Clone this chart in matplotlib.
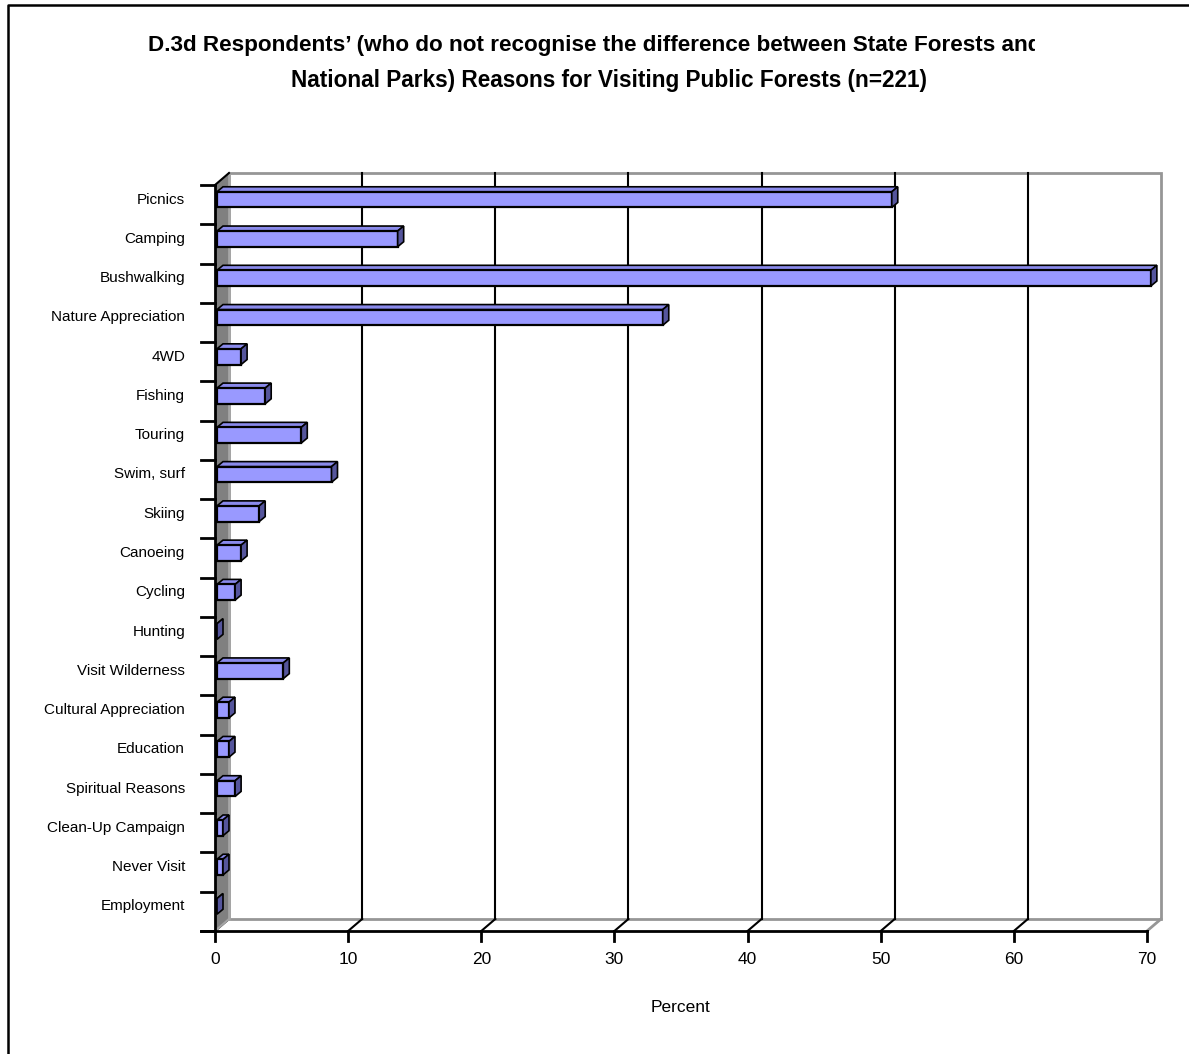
import matplotlib
matplotlib.use("Agg")
import matplotlib.pyplot as plt
from matplotlib.patches import Polygon
from matplotlib.lines import Line2D
from matplotlib.transforms import IdentityTransform, Bbox, ScaledTranslation

# ---- data -------------------------------------------------------------
categories = [
    "Picnics", "Camping", "Bushwalking", "Nature Appreciation", "4WD",
    "Fishing", "Touring", "Swim, surf", "Skiing", "Canoeing", "Cycling",
    "Hunting", "Visit Wilderness", "Cultural Appreciation", "Education",
    "Spiritual Reasons", "Clean-Up Campaign", "Never Visit", "Employment",
]
percent = [
    50.68, 13.57, 70.14, 33.48, 1.81,
    3.62, 6.33, 8.60, 3.17, 1.81, 1.36,
    0.0, 4.98, 0.90, 0.90,
    1.36, 0.45, 0.45, 0.0,
]
x_ticks = [0, 10, 20, 30, 40, 50, 60, 70]

title_line1 = "D.3d Respondents\u2019 (who do not recognise the difference between State Forests and"
title_line2 = "National Parks) Reasons for Visiting Public Forests (n=221)"
x_label = "Percent"

FONT = "Liberation Sans"

W, H, DPI = 1189, 1054, 100
fig = plt.figure(figsize=(W / DPI, H / DPI), dpi=DPI)
fig.patch.set_facecolor("white")

# front plane of the 3-D box, in pixels (top-down image coordinates)
FL, FR, FT, FB = 215, 1147, 185, 931
ax = fig.add_axes([FL / W, 1 - FB / H, (FR - FL) / W, (FB - FT) / H])
ax.set_xlim(0, 70)
ax.set_ylim(len(categories), 0)
ax.axis("off")

n = len(categories)
td = ax.transData
ID = IdentityTransform()

# depth of the box (display pixels, y up)
BOX_DX, BOX_DY = 14, 12
# placement of the bar series inside the box
BAR_DX, BAR_DY = 2, 5
BAR_DEPTH_X, BAR_DEPTH_Y = 6, 5
BAR_H = 0.40


def pt(x, y, dx=0.0, dy=0.0):
    px, py = td.transform((x, y))
    return (px + dx, py + dy)


def poly(points, **kw):
    p = Polygon(points, closed=True, transform=ID, clip_on=False, **kw)
    ax.add_artist(p)
    return p


def line(points, **kw):
    xs = [p[0] for p in points]
    ys = [p[1] for p in points]
    ln = Line2D(xs, ys, transform=ID, clip_on=False, **kw)
    ax.add_artist(ln)
    return ln


wall_grey = "#969696"

# back wall
poly([pt(0, 0, BOX_DX, BOX_DY), pt(70, 0, BOX_DX, BOX_DY),
      pt(70, n, BOX_DX, BOX_DY), pt(0, n, BOX_DX, BOX_DY)],
     facecolor="white", edgecolor=wall_grey, linewidth=2.0, zorder=1)

# vertical gridlines on back wall and matching floor diagonals
for v in x_ticks:
    if 0 < v < 70:
        line([pt(v, n, BOX_DX, BOX_DY), pt(v, 0, BOX_DX, BOX_DY)],
             color="black", linewidth=1.5, zorder=2)
    if v < 70:
        line([pt(v, n), pt(v, n, BOX_DX, BOX_DY)], color="black",
             linewidth=1.5, zorder=2)
line([pt(70, n), pt(70, n, BOX_DX, BOX_DY)], color=wall_grey,
     linewidth=2.0, zorder=2)

# left side wall
poly([pt(0, 0), pt(0, n), pt(0, n, BOX_DX, BOX_DY), pt(0, 0, BOX_DX, BOX_DY)],
     facecolor="#808080", edgecolor="none", zorder=3)
line([pt(0, 0, BOX_DX, BOX_DY), pt(0, n, BOX_DX, BOX_DY)], color="#A6A6A6",
     linewidth=2.0, zorder=3)
line([pt(0, n), pt(0, n, BOX_DX, BOX_DY)], color="#A6A6A6", linewidth=1.5, zorder=3)
line([pt(0, 0), pt(0, 0, BOX_DX, BOX_DY)], color="black", linewidth=1.5, zorder=3)
line([pt(0, 0), pt(0, n)], color="black", linewidth=2.0, zorder=6)

# front value axis and ticks
line([pt(0, n, -14), pt(70, n)], color="black", linewidth=2.0, zorder=6)
for v in x_ticks:
    line([pt(v, n), pt(v, n, 0, -10)], color="black", linewidth=2.0, zorder=6)
    x0, y0 = pt(v, n, 0, -28)
    fig.text(x0 / W, y0 / H, str(v), ha="center", va="center",
             fontsize=12.5, family=FONT)

# category ticks and labels
for i in range(n + 1):
    line([pt(0, i, -14), pt(0, i)], color="black", linewidth=2.0, zorder=6)
for i, name in enumerate(categories):
    x0, y0 = pt(0, i + 0.5, 0, BAR_DY)
    fig.text((x0 - 30) / W, y0 / H, name, ha="right", va="center",
             fontsize=11, family=FONT)

# bars: front face via barh, top and end faces as offset polygons
off = ScaledTranslation(BAR_DX / DPI, BAR_DY / DPI, fig.dpi_scale_trans)
centers = [i + 0.5 for i in range(n)]
bars = ax.barh(centers, percent, height=BAR_H, color="#9999FF",
               edgecolor="black", linewidth=1.6, zorder=8)
for b in bars:
    b.set_transform(td + off)
    b.set_clip_on(False)
for c, v in zip(centers, percent):
    top, bot = c - BAR_H / 2, c + BAR_H / 2
    dx, dy = BAR_DX, BAR_DY
    ex, ey = BAR_DX + BAR_DEPTH_X, BAR_DY + BAR_DEPTH_Y
    poly([pt(0, top, dx, dy), pt(v, top, dx, dy), pt(v, top, ex, ey),
          pt(0, top, ex, ey)],
         facecolor="#8A8AEB", edgecolor="black", linewidth=1.2, zorder=7)
    poly([pt(v, top, dx, dy), pt(v, bot, dx, dy), pt(v, bot, ex, ey),
          pt(v, top, ex, ey)],
         facecolor="#55559C", edgecolor="black", linewidth=1.2, zorder=9)

# titles (first line runs past the title box and is cut off at its edge)
t1 = fig.text(148 / W, 1 - 46 / H, title_line1, ha="left", va="center",
              fontsize=16.2, fontweight="bold", family=FONT)
t1.set_clip_box(Bbox([[0, 0], [1035, H]]))
t1.set_clip_on(True)
fig.text(609 / W, 1 - 80 / H, title_line2, ha="center", va="center",
         fontsize=16.3, fontweight="bold", family=FONT)
fig.text(681 / W, 1 - 1007 / H, x_label, ha="center", va="center",
         fontsize=12.5, family=FONT)

# chart frame
fig.add_artist(Line2D([8, 8, W + 5], [0, H - 5, H - 5], transform=ID,
                      color="black", linewidth=1.8))

fig.savefig("out.png", dpi=DPI)
